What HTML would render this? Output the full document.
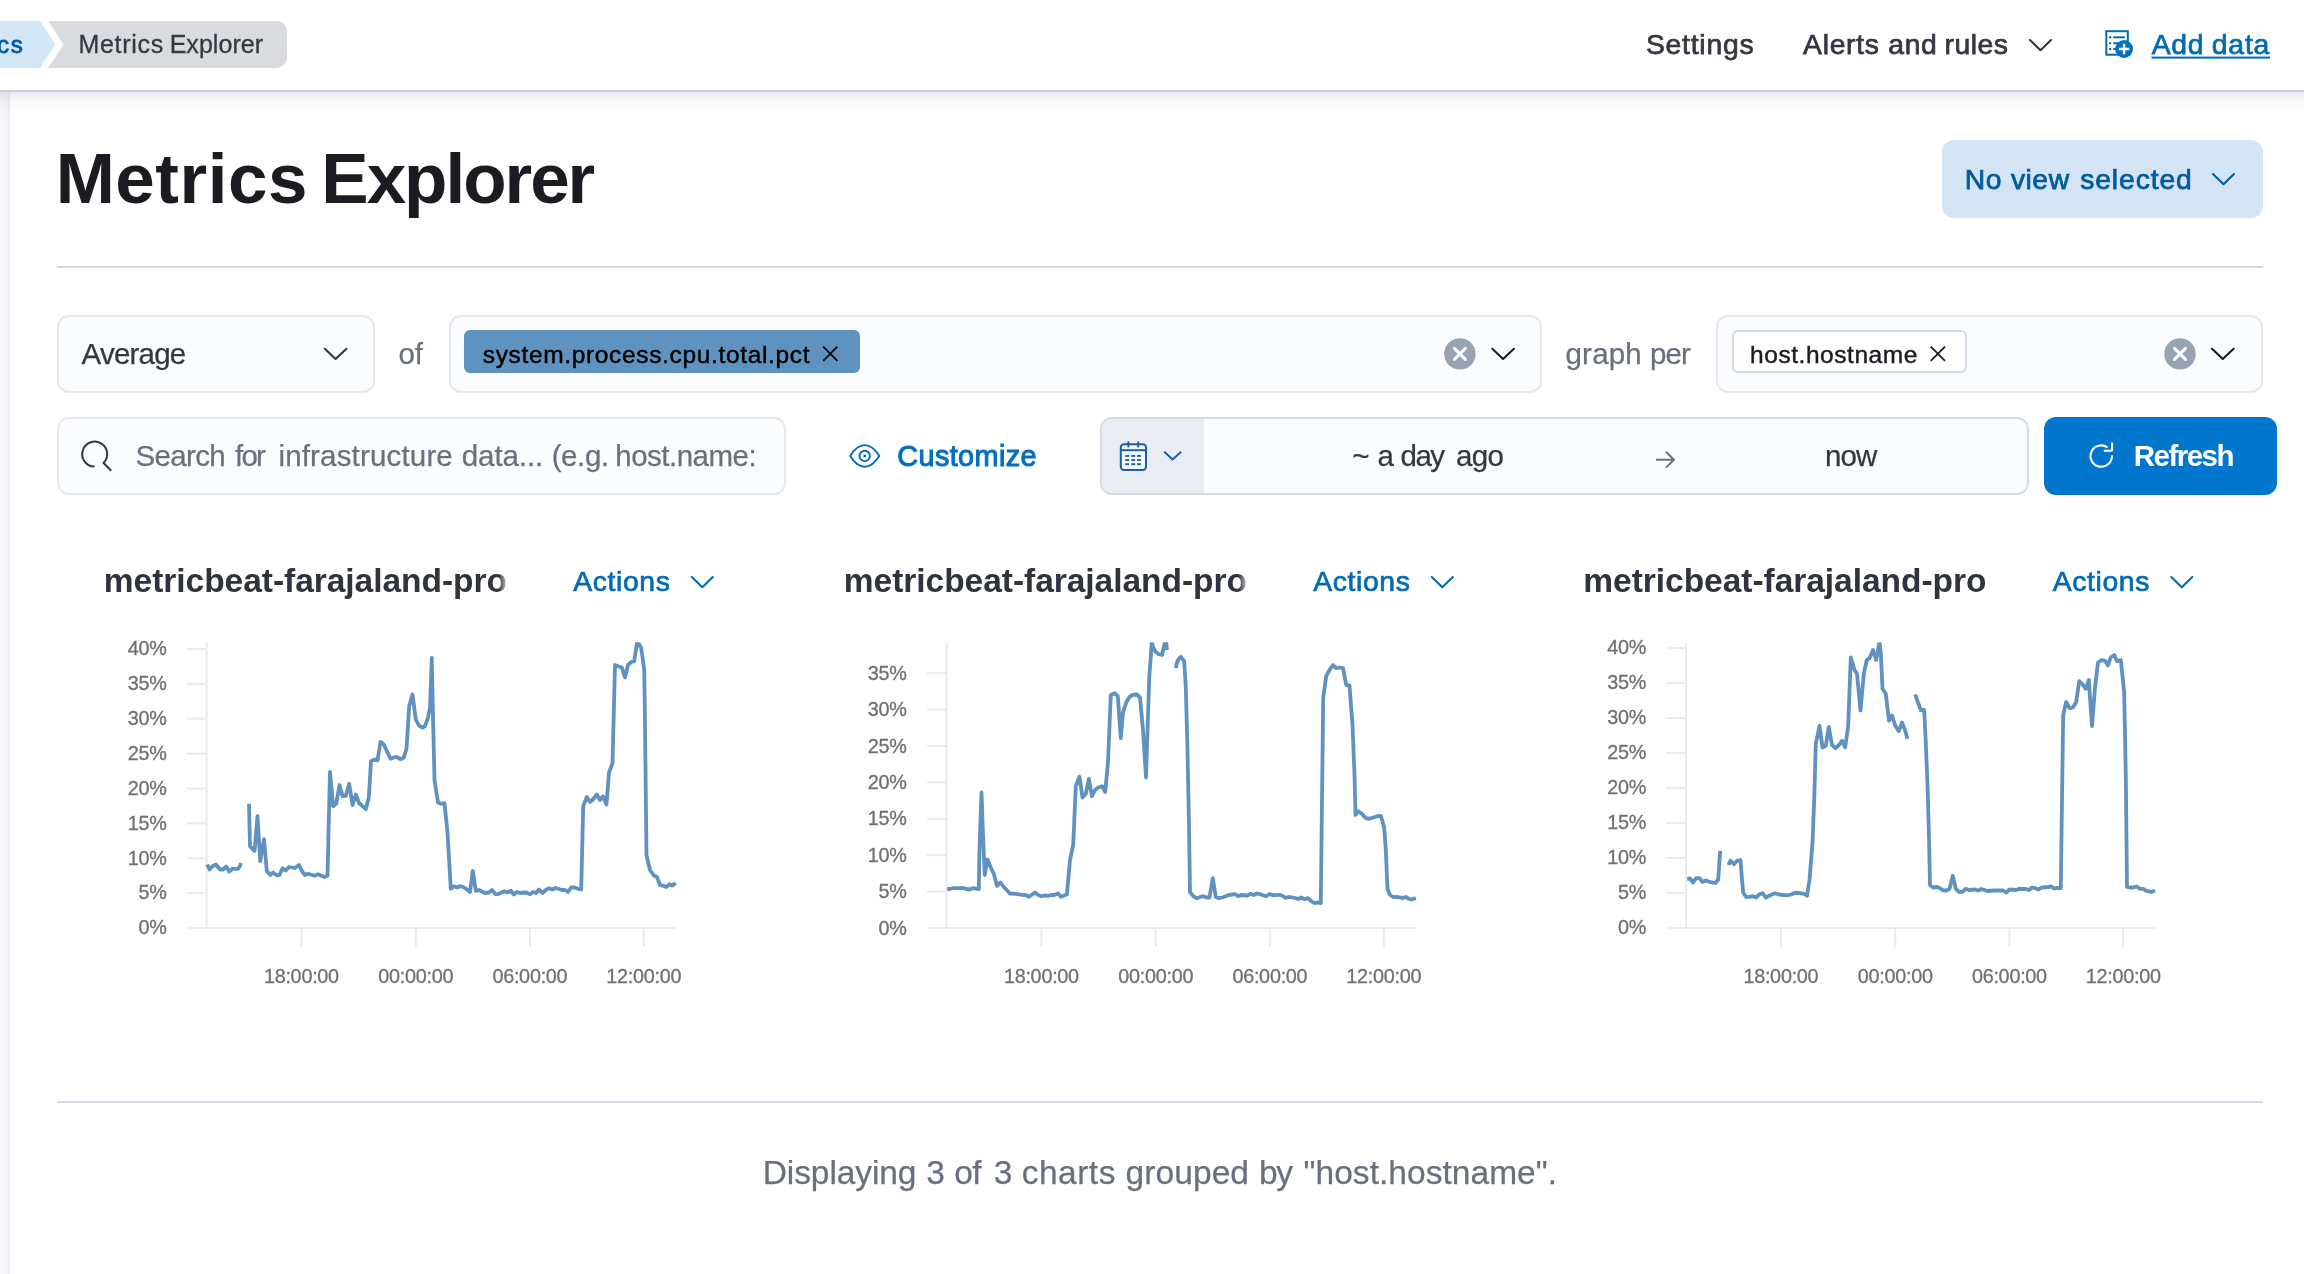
<!DOCTYPE html>
<html lang="en">
<head>
<meta charset="utf-8">
<title>Metrics Explorer</title>
<style>
*{box-sizing:border-box}
html,body{margin:0;padding:0}
body{width:2304px;height:1274px;overflow:hidden;background:#fff;position:relative;font-family:"Liberation Sans",sans-serif;}
.abs{position:absolute}
.t{position:absolute;white-space:nowrap;margin:0;padding:0}
.yl{letter-spacing:-0.2px;position:absolute;width:100px;text-align:right;font-size:19.8px;line-height:24px;color:#707070;-webkit-text-stroke:0.3px #707070;white-space:nowrap}
.xl{letter-spacing:-0.25px;position:absolute;width:120px;text-align:center;font-size:19.8px;line-height:24px;color:#707070;-webkit-text-stroke:0.3px #707070;white-space:nowrap}
.box{position:absolute;background:#FBFCFD;border:2px solid #E6E8EF;border-radius:12px}
.hr{position:absolute;left:57px;width:2205.5px;height:2px;background:#D3DAE6}
svg{position:absolute;left:0;top:0;overflow:visible}
#root{position:absolute;left:0;top:0;width:2304px;height:1274px;overflow:hidden;will-change:transform}
</style>
</head>
<body>
<div id="root">

<!-- left strip -->
<div class="abs" style="left:0;top:91px;width:10px;height:1183px;background:linear-gradient(to right,#F6F7FB 0,#F4F5F9 6px,#EEEFF3 9px,#ECEDF1 10px)"></div>

<!-- header -->
<div class="abs" style="left:0;top:91.5px;width:2304px;height:22px;background:linear-gradient(to bottom,rgba(60,65,80,0.11) 0,rgba(60,65,80,0.055) 6px,rgba(60,65,80,0.02) 13px,rgba(60,65,80,0) 22px)"></div>
<div class="abs" style="left:0;top:0;width:2304px;height:90px;background:#fff"></div>
<div class="abs" style="left:0;top:89.6px;width:2304px;height:2.2px;background:linear-gradient(to bottom,#E4E7EE 0,#C9CEDC 0.5px,#C9CEDC 100%)"></div>

<!-- toolbar boxes -->
<div class="box" style="left:57px;top:314.5px;width:317.5px;height:78.5px"></div>
<div class="box" style="left:448.5px;top:314.5px;width:1093.5px;height:78.5px"></div>
<div class="box" style="left:1715.5px;top:314.5px;width:547px;height:78.5px"></div>
<div class="box" style="left:57px;top:417px;width:728.5px;height:78px"></div>

<!-- pills -->
<div class="abs" style="left:464px;top:330.3px;width:395.5px;height:42.7px;background:#6092C0;border-radius:6px"></div>
<div class="abs" style="left:1731.5px;top:330.3px;width:235.5px;height:42.7px;background:#fff;border:2px solid #D3DAE6;border-radius:6px"></div>

<!-- date picker -->
<div class="abs" style="left:1100px;top:417px;width:928.5px;height:78px;background:#FBFCFD;border:2px solid #D5DAE5;border-radius:12px;overflow:hidden">
  <div class="abs" style="left:0;top:0;width:102px;height:74px;background:#E9EDF3"></div>
</div>

<!-- refresh button -->
<div class="abs" style="left:2044px;top:417px;width:232.5px;height:78px;background:#0077CC;border-radius:12px"></div>

<!-- view button -->
<div class="abs" style="left:1942px;top:140px;width:320.5px;height:77.5px;background:#D3E5F4;border-radius:12px"></div>

<!-- rules -->
<div class="hr" style="top:265.5px"></div>
<div class="hr" style="top:1101px"></div>

<!-- title fades -->
<div class="abs" style="left:498.5px;top:565px;width:9.5px;height:36px;background:linear-gradient(to right,rgba(255,255,255,0),rgba(255,255,255,0.85));z-index:5"></div>
<div class="abs" style="left:1238.5px;top:565px;width:9.5px;height:36px;background:linear-gradient(to right,rgba(255,255,255,0),rgba(255,255,255,0.85));z-index:5"></div>

<svg width="2304" height="1274" viewBox="0 0 2304 1274">
  <!-- breadcrumbs -->
  <path d="M0 21H40L55.5 44.5L40 68H0Z" fill="#D3E6F5"/>
  <path d="M48 21H277A10 10 0 0 1 287 31V58A10 10 0 0 1 277 68H48L63.6 44.5Z" fill="#DADBDF"/>

  <!-- header chevron (Alerts and rules) -->
  <path d="M2030 40L2040.5 50.2L2051 40" fill="none" stroke="#343741" stroke-width="2.1" stroke-linecap="round" stroke-linejoin="round"/>
  <!-- add data icon -->
  <g>
    <rect x="2106.3" y="31.2" width="21.5" height="23.5" fill="none" stroke="#006BB4" stroke-width="2"/>
    <rect x="2109.2" y="36.3" width="2" height="2" fill="#005A9E"/>
    <rect x="2109.2" y="42.2" width="2" height="2" fill="#005A9E"/>
    <rect x="2109.2" y="48" width="2" height="2" fill="#005A9E"/>
    <rect x="2113.2" y="36.3" width="11.7" height="2" fill="#006BB4"/>
    <rect x="2113.2" y="42.2" width="6" height="2" fill="#006BB4"/>
    <rect x="2113.2" y="48" width="4" height="2" fill="#006BB4"/>
    <circle cx="2124.1" cy="49" r="8.9" fill="#0071C2"/>
    <path d="M2118.9 49H2129.3M2124.1 43.8V54.2" stroke="#fff" stroke-width="2.4" fill="none"/>
  </g>
  <!-- add data underline -->
  <rect x="2151.5" y="56.6" width="118.5" height="2" fill="#006BB4"/>

  <!-- view button chevron -->
  <path d="M2213 174L2223.5 184.2L2234 174" fill="none" stroke="#005A9E" stroke-width="2.1" stroke-linecap="round" stroke-linejoin="round"/>

  <!-- average select chevron -->
  <path d="M324.8 348.8L335.6 359L346.4 348.8" fill="none" stroke="#343741" stroke-width="2.1" stroke-linecap="round" stroke-linejoin="round"/>

  <!-- combobox 1 clear + chevron -->
  <circle cx="1459.9" cy="353.9" r="15.7" fill="#98A2B3"/>
  <path d="M1454.4 348.4L1465.4 359.4M1465.4 348.4L1454.4 359.4" stroke="#fff" stroke-width="2.9" stroke-linecap="round" fill="none"/>
  <path d="M1492.3 348.8L1503.1 359L1513.9 348.8" fill="none" stroke="#1A1C21" stroke-width="2.1" stroke-linecap="round" stroke-linejoin="round"/>
  <!-- combobox 2 clear + chevron -->
  <circle cx="2180" cy="353.9" r="15.7" fill="#98A2B3"/>
  <path d="M2174.5 348.4L2185.5 359.4M2185.5 348.4L2174.5 359.4" stroke="#fff" stroke-width="2.9" stroke-linecap="round" fill="none"/>
  <path d="M2212 348.8L2222.8 359L2233.6 348.8" fill="none" stroke="#1A1C21" stroke-width="2.1" stroke-linecap="round" stroke-linejoin="round"/>

  <!-- pill crosses -->
  <path d="M823.2 346.6L837.4 360.8M837.4 346.6L823.2 360.8" stroke="#000" stroke-width="1.8" fill="none"/>
  <path d="M1930.8 346.6L1945 360.8M1945 346.6L1930.8 360.8" stroke="#1A1C21" stroke-width="1.8" fill="none"/>

  <!-- search icon -->
  <path d="M94.5 466.6A12.5 12.5 0 1 1 103.6 462.9L111.2 470.8" fill="none" stroke="#343741" stroke-width="2" stroke-linecap="butt" stroke-linejoin="miter"/>

  <!-- eye icon -->
  <path d="M850.2 455.9C854.5 449 859.5 445.1 864.7 445.1C869.9 445.1 874.9 449 879.3 455.9C874.9 462.8 869.9 466.7 864.7 466.7C859.5 466.7 854.5 462.8 850.2 455.9Z" fill="none" stroke="#006BB4" stroke-width="1.9" stroke-linejoin="round"/>
  <circle cx="864.7" cy="455.9" r="5.2" fill="none" stroke="#006BB4" stroke-width="1.9"/>
  <circle cx="864.7" cy="455.9" r="1.4" fill="#005A9E"/>

  <!-- calendar icon -->
  <g stroke="#1A5FA0" fill="none" stroke-width="2">
    <rect x="1120.8" y="444.3" width="25.2" height="25.6" rx="3.2" ry="3.2" fill="#F1F7FD"/>
    <path d="M1120.8 450.2H1146"/>
    <path d="M1128.4 442.3V446.4M1138.2 442.3V446.4" stroke-linecap="round"/>
  </g>
  <g fill="#1A5FA0">
    <rect x="1125.3" y="455" width="3.8" height="1.9"/><rect x="1131.3" y="455" width="3.8" height="1.9"/><rect x="1137.1" y="455" width="3.8" height="1.9"/>
    <rect x="1125.3" y="459.1" width="3.8" height="1.9"/><rect x="1131.3" y="459.1" width="3.8" height="1.9"/><rect x="1137.1" y="459.1" width="3.8" height="1.9"/>
    <rect x="1125.3" y="463.2" width="3.8" height="1.9"/><rect x="1131.3" y="463.2" width="3.8" height="1.9"/><rect x="1137.1" y="463.2" width="3.8" height="1.9"/>
  </g>
  <path d="M1164.8 452.3L1172.6 459.5L1180.6 452.3" fill="none" stroke="#1A5FA0" stroke-width="2" stroke-linecap="round" stroke-linejoin="round"/>

  <!-- arrow right -->
  <path d="M1656 459.7H1674M1666 451.8L1674 459.7L1666 467.6" fill="none" stroke="#69707D" stroke-width="2" stroke-linejoin="miter"/>

  <!-- refresh icon -->
  <path d="M2107.6 447.5A10.7 10.7 0 1 0 2111.9 455.4" fill="none" stroke="#fff" stroke-width="2.1"/>
  <path d="M2112.1 442.6V449.8Q2112.1 450.8 2111.1 450.8H2103.8" fill="none" stroke="#fff" stroke-width="2.1" stroke-linecap="butt"/>

  <!-- actions chevrons -->
  <path d="M691.8 577L702.3 587.2L712.8 577" fill="none" stroke="#006BB4" stroke-width="2.1" stroke-linecap="round" stroke-linejoin="round"/>
  <path d="M1431.8 577L1442.3 587.2L1452.8 577" fill="none" stroke="#006BB4" stroke-width="2.1" stroke-linecap="round" stroke-linejoin="round"/>
  <path d="M2171.3 577L2181.8 587.2L2192.3 577" fill="none" stroke="#006BB4" stroke-width="2.1" stroke-linecap="round" stroke-linejoin="round"/>

<defs><clipPath id="cp"><rect x="0" y="642.2" width="2304" height="300"/></clipPath></defs>
<path d="M206.6 642.5V928" stroke="#EAEAEA" stroke-width="2" fill="none"/>
<path d="M187 928H675.5" stroke="#EAEAEA" stroke-width="2" fill="none"/>
<path d="M187 649.0H206.6" stroke="#EAEAEA" stroke-width="2" fill="none"/>
<path d="M187 683.875H206.6" stroke="#EAEAEA" stroke-width="2" fill="none"/>
<path d="M187 718.75H206.6" stroke="#EAEAEA" stroke-width="2" fill="none"/>
<path d="M187 753.625H206.6" stroke="#EAEAEA" stroke-width="2" fill="none"/>
<path d="M187 788.5H206.6" stroke="#EAEAEA" stroke-width="2" fill="none"/>
<path d="M187 823.375H206.6" stroke="#EAEAEA" stroke-width="2" fill="none"/>
<path d="M187 858.25H206.6" stroke="#EAEAEA" stroke-width="2" fill="none"/>
<path d="M187 893.125H206.6" stroke="#EAEAEA" stroke-width="2" fill="none"/>
<path d="M301.4 928V947" stroke="#EAEAEA" stroke-width="2" fill="none"/>
<path d="M415.7 928V947" stroke="#EAEAEA" stroke-width="2" fill="none"/>
<path d="M529.9 928V947" stroke="#EAEAEA" stroke-width="2" fill="none"/>
<path d="M643.8 928V947" stroke="#EAEAEA" stroke-width="2" fill="none"/>
<polyline points="207.2,864.5 209.5,869.5 212.5,866.2 216.0,864.5 220.0,869.5 223.0,869.5 226.2,866.5 229.2,871.5 232.5,868.8 238.0,868.8 240.0,866.2 240.8,863.0" clip-path="url(#cp)" fill="none" stroke="#6092C0" stroke-width="3.8" stroke-linejoin="round" stroke-linecap="butt"/>
<polyline points="249.0,803.8 250.0,846.2 254.5,850.8 257.5,816.2 260.2,861.2 264.0,839.2 266.8,871.2 270.5,875.0 273.0,872.5 277.0,875.5 279.5,875.0 282.5,868.2 285.8,870.5 289.0,867.0 295.0,868.0 299.0,865.0 302.0,871.2 305.0,875.0 308.0,873.8 314.5,875.8 318.0,874.2 324.5,877.0 327.5,875.8 328.5,832.5 330.0,771.8 333.2,806.2 336.2,803.8 339.5,785.0 342.5,796.2 345.8,795.8 349.2,783.8 352.5,805.0 355.8,794.5 359.0,803.0 362.5,806.2 365.8,809.2 368.8,797.5 371.0,761.2 374.5,759.5 377.5,760.5 380.5,741.8 383.8,744.5 390.5,758.8 396.2,756.8 400.8,759.2 403.8,757.5 406.5,748.8 409.2,706.2 412.5,694.5 415.8,719.5 418.8,725.5 422.5,727.5 425.0,726.2 428.0,717.5 430.0,707.5 431.8,658.0 432.8,707.5 434.5,780.0 438.0,802.5 441.2,803.8 444.5,803.2 447.5,832.5 450.8,888.8 453.8,886.2 457.0,887.5 460.0,886.2 463.2,887.0 467.0,889.5 470.0,892.0 472.8,870.8 475.8,890.8 479.0,890.0 485.0,893.0 488.8,892.5 492.0,890.0 495.5,894.2 498.8,893.8 504.2,891.2 507.5,892.5 510.8,890.8 513.8,894.5 517.0,892.0 520.0,893.0 526.2,892.5 530.0,894.2 533.0,892.0 536.2,893.0 539.0,889.5 542.5,893.0 545.8,890.0 549.0,888.2 552.5,889.5 555.5,888.0 562.0,890.0 565.0,890.0 568.0,892.0 571.2,887.5 574.5,887.5 578.0,888.8 581.2,889.5 583.2,806.2 586.8,797.0 590.0,802.0 593.0,799.5 596.8,794.5 600.0,800.0 603.0,796.2 606.5,804.5 609.0,772.5 612.5,763.2 615.0,665.0 618.2,666.2 621.8,667.5 625.0,677.5 628.0,665.0 631.2,662.0 634.2,661.2 637.0,642.5 638.2,642.5 641.2,648.0 644.2,669.5 644.8,707.5 646.5,855.2 648.2,862.5 650.0,870.0 653.8,875.5 657.0,877.0 660.0,885.0 663.2,885.8 666.2,887.0 669.5,884.2 672.0,885.5 675.8,883.2" clip-path="url(#cp)" fill="none" stroke="#6092C0" stroke-width="3.8" stroke-linejoin="round" stroke-linecap="butt"/>
<path d="M946.6 642.5V928" stroke="#EAEAEA" stroke-width="2" fill="none"/>
<path d="M927 928H1415.5" stroke="#EAEAEA" stroke-width="2" fill="none"/>
<path d="M927 673.2H946.6" stroke="#EAEAEA" stroke-width="2" fill="none"/>
<path d="M927 709.6H946.6" stroke="#EAEAEA" stroke-width="2" fill="none"/>
<path d="M927 746.0H946.6" stroke="#EAEAEA" stroke-width="2" fill="none"/>
<path d="M927 782.4000000000001H946.6" stroke="#EAEAEA" stroke-width="2" fill="none"/>
<path d="M927 818.8000000000001H946.6" stroke="#EAEAEA" stroke-width="2" fill="none"/>
<path d="M927 855.2H946.6" stroke="#EAEAEA" stroke-width="2" fill="none"/>
<path d="M927 891.6H946.6" stroke="#EAEAEA" stroke-width="2" fill="none"/>
<path d="M1041.4 928V947" stroke="#EAEAEA" stroke-width="2" fill="none"/>
<path d="M1155.7 928V947" stroke="#EAEAEA" stroke-width="2" fill="none"/>
<path d="M1269.9 928V947" stroke="#EAEAEA" stroke-width="2" fill="none"/>
<path d="M1383.8 928V947" stroke="#EAEAEA" stroke-width="2" fill="none"/>
<polyline points="947.2,888.8 950.0,889.0 952.5,888.2 960.0,888.2 962.5,887.8 966.2,889.0 969.5,889.5 972.5,888.2 978.8,889.0 979.5,850.0 981.5,792.5 983.0,835.0 984.8,875.0 987.5,859.5 990.8,867.5 993.8,873.8 997.0,885.8 1000.5,882.5 1003.8,887.0 1010.0,893.5 1016.2,893.8 1022.5,895.0 1025.8,895.0 1029.0,896.8 1035.0,892.5 1038.2,895.0 1041.5,896.2 1044.5,895.5 1048.0,895.8 1051.2,895.0 1054.5,895.0 1058.0,893.5 1061.0,896.8 1064.2,895.5 1067.0,894.2 1068.2,880.0 1070.0,860.0 1073.2,845.0 1075.8,786.2 1079.5,776.8 1082.5,797.5 1085.8,793.8 1088.8,778.8 1092.0,796.2 1095.0,790.0 1098.2,787.5 1102.0,786.2 1105.2,792.0 1108.0,762.0 1110.8,695.0 1114.5,693.2 1117.8,696.2 1120.8,738.0 1123.0,712.5 1126.2,702.5 1129.5,696.8 1132.5,695.0 1136.8,694.5 1140.0,697.5 1143.0,730.0 1146.0,777.5 1149.2,678.8 1151.8,642.0 1153.2,647.5 1155.8,652.0 1158.8,654.2 1162.0,655.0 1165.0,642.0 1166.2,642.5 1167.0,650.0" clip-path="url(#cp)" fill="none" stroke="#6092C0" stroke-width="3.8" stroke-linejoin="round" stroke-linecap="butt"/>
<polyline points="1175.8,668.0 1177.5,660.8 1180.8,656.8 1184.2,661.2 1185.8,687.5 1187.5,750.0 1189.0,825.0 1190.0,892.0 1193.2,896.2 1197.0,898.2 1200.0,897.0 1203.2,896.2 1206.5,897.5 1209.5,897.5 1212.8,878.2 1215.8,897.0 1219.0,898.2 1222.5,897.5 1228.8,895.0 1235.0,894.2 1238.2,896.2 1241.2,895.0 1247.5,895.5 1250.8,893.8 1253.8,895.0 1257.0,893.5 1260.0,894.2 1266.2,896.2 1269.5,894.0 1272.5,895.0 1276.2,895.2 1279.2,894.8 1282.5,895.8 1285.8,898.0 1289.0,896.8 1295.0,898.0 1298.2,899.0 1301.2,897.5 1304.5,899.2 1308.0,898.2 1311.2,901.2 1314.5,903.2 1317.5,902.5 1320.8,903.0 1322.0,800.0 1323.2,697.5 1326.2,676.2 1329.5,670.0 1333.0,665.0 1336.2,668.2 1339.5,667.5 1343.0,668.2 1346.2,685.0 1349.5,685.5 1352.5,725.0 1354.5,775.0 1355.5,815.0 1358.2,811.2 1361.8,813.8 1365.0,817.5 1368.0,818.8 1371.2,818.2 1377.5,816.2 1380.8,815.8 1384.2,827.5 1385.8,850.0 1387.5,888.8 1390.0,895.0 1393.2,897.0 1396.8,896.8 1400.0,897.5 1403.2,898.0 1405.8,897.0 1408.8,898.8 1412.0,899.5 1415.8,898.0" clip-path="url(#cp)" fill="none" stroke="#6092C0" stroke-width="3.8" stroke-linejoin="round" stroke-linecap="butt"/>
<path d="M1686.1 642.5V928" stroke="#EAEAEA" stroke-width="2" fill="none"/>
<path d="M1666.5 928H2155.0" stroke="#EAEAEA" stroke-width="2" fill="none"/>
<path d="M1666.5 648H1686.1" stroke="#EAEAEA" stroke-width="2" fill="none"/>
<path d="M1666.5 683H1686.1" stroke="#EAEAEA" stroke-width="2" fill="none"/>
<path d="M1666.5 718H1686.1" stroke="#EAEAEA" stroke-width="2" fill="none"/>
<path d="M1666.5 753H1686.1" stroke="#EAEAEA" stroke-width="2" fill="none"/>
<path d="M1666.5 788H1686.1" stroke="#EAEAEA" stroke-width="2" fill="none"/>
<path d="M1666.5 823H1686.1" stroke="#EAEAEA" stroke-width="2" fill="none"/>
<path d="M1666.5 858H1686.1" stroke="#EAEAEA" stroke-width="2" fill="none"/>
<path d="M1666.5 893H1686.1" stroke="#EAEAEA" stroke-width="2" fill="none"/>
<path d="M1780.9 928V947" stroke="#EAEAEA" stroke-width="2" fill="none"/>
<path d="M1895.2 928V947" stroke="#EAEAEA" stroke-width="2" fill="none"/>
<path d="M2009.4 928V947" stroke="#EAEAEA" stroke-width="2" fill="none"/>
<path d="M2123.3 928V947" stroke="#EAEAEA" stroke-width="2" fill="none"/>
<polyline points="1687.2,878.8 1690.0,878.5 1693.0,882.5 1696.0,878.2 1699.5,878.2 1702.5,882.0 1705.8,880.5 1709.0,881.8 1715.5,883.0 1718.2,879.5 1719.2,865.0 1720.2,850.8" clip-path="url(#cp)" fill="none" stroke="#6092C0" stroke-width="3.8" stroke-linejoin="round" stroke-linecap="butt"/>
<polyline points="1728.5,865.0 1730.5,860.8 1734.0,864.2 1737.0,860.8 1740.5,860.0 1741.8,877.5 1743.2,892.5 1746.2,897.0 1749.5,896.8 1753.0,896.2 1756.2,897.5 1759.5,894.2 1762.5,893.2 1765.8,897.5 1769.0,895.8 1775.0,893.2 1779.0,894.5 1784.5,895.2 1788.0,895.2 1791.2,894.5 1794.5,893.0 1798.0,892.8 1804.2,893.8 1807.0,895.8 1809.5,880.0 1812.5,842.5 1814.2,800.0 1815.8,743.8 1819.5,725.8 1822.5,747.5 1825.8,745.8 1828.8,727.0 1832.0,745.0 1835.5,748.2 1839.0,745.0 1842.0,740.8 1845.2,747.5 1848.2,725.8 1850.8,657.5 1854.5,670.0 1857.0,673.8 1860.5,710.5 1863.8,673.8 1866.8,660.0 1869.5,658.2 1873.0,650.0 1876.2,660.0 1879.5,642.0 1880.8,652.5 1882.5,688.8 1885.8,693.8 1889.0,720.8 1892.0,715.5 1895.2,725.5 1898.8,731.2 1902.0,722.5 1905.0,730.0 1907.5,738.8" clip-path="url(#cp)" fill="none" stroke="#6092C0" stroke-width="3.8" stroke-linejoin="round" stroke-linecap="butt"/>
<polyline points="1915.2,694.5 1917.5,701.2 1920.8,710.0 1924.2,710.0 1925.8,742.5 1927.5,785.0 1929.0,837.5 1930.0,885.0 1933.2,887.5 1937.0,887.0 1940.0,888.2 1943.2,890.5 1946.5,890.5 1949.5,888.8 1952.8,875.8 1955.8,888.8 1959.0,891.8 1962.5,891.8 1965.5,888.8 1968.8,890.0 1975.0,889.5 1978.2,890.5 1981.2,889.0 1987.5,891.0 1993.8,890.5 2000.0,890.5 2003.0,890.5 2006.2,892.5 2009.5,889.5 2016.2,890.0 2019.2,888.8 2025.8,889.0 2029.0,890.0 2032.0,887.5 2035.0,888.0 2038.2,889.5 2042.0,887.5 2048.0,887.0 2051.2,886.5 2054.5,888.8 2057.5,887.8 2060.8,888.2 2062.0,800.0 2063.2,715.0 2066.2,702.0 2069.5,708.2 2073.0,707.5 2076.2,702.0 2079.2,681.2 2082.5,684.2 2085.8,688.8 2088.8,680.0 2092.0,726.2 2095.0,687.5 2098.0,662.5 2101.8,660.0 2105.0,660.8 2108.0,665.5 2110.5,657.5 2114.2,655.0 2117.0,661.2 2120.8,660.0 2124.2,692.5 2125.8,775.0 2127.0,887.0 2130.0,887.5 2133.2,887.5 2136.8,886.5 2140.0,888.8 2143.2,888.8 2146.2,890.8 2149.5,891.5 2152.0,891.8 2155.0,890.5" clip-path="url(#cp)" fill="none" stroke="#6092C0" stroke-width="3.8" stroke-linejoin="round" stroke-linecap="butt"/>
</svg>

<div class="yl" style="left:66.7px;top:636.2px">40%</div>
<div class="yl" style="left:66.7px;top:671.1px">35%</div>
<div class="yl" style="left:66.7px;top:706.0px">30%</div>
<div class="yl" style="left:66.7px;top:740.8px">25%</div>
<div class="yl" style="left:66.7px;top:775.7px">20%</div>
<div class="yl" style="left:66.7px;top:810.6px">15%</div>
<div class="yl" style="left:66.7px;top:845.5px">10%</div>
<div class="yl" style="left:66.7px;top:880.3px">5%</div>
<div class="yl" style="left:66.7px;top:915.2px">0%</div>
<div class="xl" style="left:241.39999999999998px;top:964.3px">18:00:00</div>
<div class="xl" style="left:355.7px;top:964.3px">00:00:00</div>
<div class="xl" style="left:469.9px;top:964.3px">06:00:00</div>
<div class="xl" style="left:583.8px;top:964.3px">12:00:00</div>
<div class="yl" style="left:806.7px;top:660.8px">35%</div>
<div class="yl" style="left:806.7px;top:697.2px">30%</div>
<div class="yl" style="left:806.7px;top:733.6px">25%</div>
<div class="yl" style="left:806.7px;top:770.0px">20%</div>
<div class="yl" style="left:806.7px;top:806.4px">15%</div>
<div class="yl" style="left:806.7px;top:842.8px">10%</div>
<div class="yl" style="left:806.7px;top:879.2px">5%</div>
<div class="yl" style="left:806.7px;top:915.6px">0%</div>
<div class="xl" style="left:981.4000000000001px;top:964.3px">18:00:00</div>
<div class="xl" style="left:1095.7px;top:964.3px">00:00:00</div>
<div class="xl" style="left:1209.9px;top:964.3px">06:00:00</div>
<div class="xl" style="left:1323.8px;top:964.3px">12:00:00</div>
<div class="yl" style="left:1546.2px;top:635.2px">40%</div>
<div class="yl" style="left:1546.2px;top:670.2px">35%</div>
<div class="yl" style="left:1546.2px;top:705.2px">30%</div>
<div class="yl" style="left:1546.2px;top:740.2px">25%</div>
<div class="yl" style="left:1546.2px;top:775.2px">20%</div>
<div class="yl" style="left:1546.2px;top:810.2px">15%</div>
<div class="yl" style="left:1546.2px;top:845.2px">10%</div>
<div class="yl" style="left:1546.2px;top:880.2px">5%</div>
<div class="yl" style="left:1546.2px;top:915.2px">0%</div>
<div class="xl" style="left:1720.9px;top:964.3px">18:00:00</div>
<div class="xl" style="left:1835.2px;top:964.3px">00:00:00</div>
<div class="xl" style="left:1949.4px;top:964.3px">06:00:00</div>
<div class="xl" style="left:2063.3px;top:964.3px">12:00:00</div>

<div><span class="t" style="left:-2.90px;top:29.80px;font-size:24.2px;line-height:29px;font-weight:400;color:#005A9E;letter-spacing:1.506px;-webkit-text-stroke:0.8px #005A9E;">cs</span></div>
<div><span class="t" style="left:78.45px;top:28.50px;font-size:25px;line-height:30px;font-weight:400;color:#343741;letter-spacing:0.691px;-webkit-text-stroke:0.3px #343741;">Metrics</span> <span class="t" style="left:169.65px;top:28.50px;font-size:25px;line-height:30px;font-weight:400;color:#343741;letter-spacing:0.048px;-webkit-text-stroke:0.3px #343741;">Explorer</span></div>
<div><span class="t" style="left:1645.88px;top:26.80px;font-size:28.3px;line-height:34px;font-weight:400;color:#343741;letter-spacing:0.779px;-webkit-text-stroke:0.75px #343741;">Settings</span></div>
<div><span class="t" style="left:1803.08px;top:26.80px;font-size:28.3px;line-height:34px;font-weight:400;color:#343741;letter-spacing:0.713px;-webkit-text-stroke:0.75px #343741;">Alerts</span> <span class="t" style="left:1888.17px;top:26.80px;font-size:28.3px;line-height:34px;font-weight:400;color:#343741;letter-spacing:0.738px;-webkit-text-stroke:0.75px #343741;">and</span> <span class="t" style="left:1944.58px;top:26.80px;font-size:28.3px;line-height:34px;font-weight:400;color:#343741;letter-spacing:0.466px;-webkit-text-stroke:0.75px #343741;">rules</span></div>
<div><span class="t" style="left:2151.78px;top:26.80px;font-size:28.3px;line-height:34px;font-weight:400;color:#006BB4;letter-spacing:0.719px;-webkit-text-stroke:0.75px #006BB4;">Add</span> <span class="t" style="left:2211.68px;top:26.80px;font-size:28.3px;line-height:34px;font-weight:400;color:#006BB4;letter-spacing:0.871px;-webkit-text-stroke:0.75px #006BB4;">data</span></div>
<div><span class="t" style="left:55.70px;top:136.00px;font-size:71px;line-height:85px;font-weight:700;color:#1A1C21;letter-spacing:0.514px;">Metrics</span> <span class="t" style="left:321.30px;top:136.00px;font-size:71px;line-height:85px;font-weight:700;color:#1A1C21;letter-spacing:-2.018px;">Explorer</span></div>
<div><span class="t" style="left:1964.78px;top:161.80px;font-size:28.3px;line-height:34px;font-weight:400;color:#005A9E;letter-spacing:0.615px;-webkit-text-stroke:0.75px #005A9E;">No</span> <span class="t" style="left:2010.88px;top:161.80px;font-size:28.3px;line-height:34px;font-weight:400;color:#005A9E;letter-spacing:0.526px;-webkit-text-stroke:0.75px #005A9E;">view</span> <span class="t" style="left:2080.18px;top:161.80px;font-size:28.3px;line-height:34px;font-weight:400;color:#005A9E;letter-spacing:0.899px;-webkit-text-stroke:0.75px #005A9E;">selected</span></div>
<div><span class="t" style="left:81.62px;top:335.80px;font-size:29.5px;line-height:35px;font-weight:400;color:#343741;letter-spacing:-0.781px;-webkit-text-stroke:0.25px #343741;">Average</span></div>
<div><span class="t" style="left:398.62px;top:335.80px;font-size:29.5px;line-height:35px;font-weight:400;color:#69707D;letter-spacing:-0.156px;-webkit-text-stroke:0.25px #69707D;">of</span></div>
<div><span class="t" style="left:482.73px;top:339.50px;font-size:24.5px;line-height:29px;font-weight:400;color:#000;letter-spacing:0.658px;-webkit-text-stroke:0.45px #000;">system.process.cpu.total.pct</span></div>
<div><span class="t" style="left:1565.53px;top:335.80px;font-size:29.5px;line-height:35px;font-weight:400;color:#69707D;letter-spacing:0.202px;-webkit-text-stroke:0.25px #69707D;">graph</span> <span class="t" style="left:1649.92px;top:335.80px;font-size:29.5px;line-height:35px;font-weight:400;color:#69707D;letter-spacing:-0.831px;-webkit-text-stroke:0.25px #69707D;">per</span></div>
<div><span class="t" style="left:1750.02px;top:339.50px;font-size:24.5px;line-height:29px;font-weight:400;color:#1A1C21;letter-spacing:0.556px;-webkit-text-stroke:0.45px #1A1C21;">host.hostname</span></div>
<div><span class="t" style="left:897.30px;top:438.50px;font-size:28.8px;line-height:35px;font-weight:400;color:#0070C0;letter-spacing:0.399px;-webkit-text-stroke:1.0px #0070C0;">Customize</span></div>
<div><span class="t" style="left:1352.33px;top:437.80px;font-size:29.5px;line-height:35px;font-weight:400;color:#343741;letter-spacing:0.000px;-webkit-text-stroke:0.25px #343741;">~</span> <span class="t" style="left:1377.42px;top:437.80px;font-size:29.5px;line-height:35px;font-weight:400;color:#343741;letter-spacing:0.000px;-webkit-text-stroke:0.25px #343741;">a</span> <span class="t" style="left:1400.42px;top:437.80px;font-size:29.5px;line-height:35px;font-weight:400;color:#343741;letter-spacing:-1.431px;-webkit-text-stroke:0.25px #343741;">day</span> <span class="t" style="left:1455.92px;top:437.80px;font-size:29.5px;line-height:35px;font-weight:400;color:#343741;letter-spacing:-0.581px;-webkit-text-stroke:0.25px #343741;">ago</span></div>
<div><span class="t" style="left:1825.12px;top:437.80px;font-size:29.5px;line-height:35px;font-weight:400;color:#343741;letter-spacing:-0.931px;-webkit-text-stroke:0.25px #343741;">now</span></div>
<div><span class="t" style="left:2133.80px;top:437.80px;font-size:29.5px;line-height:35px;font-weight:700;color:#FFF;letter-spacing:-1.538px;">Refresh</span></div>
<div><span class="t" style="left:762.73px;top:1153.10px;font-size:33.5px;line-height:40px;font-weight:400;color:#69707D;letter-spacing:-0.085px;-webkit-text-stroke:0.25px #69707D;">Displaying</span> <span class="t" style="left:926.33px;top:1153.10px;font-size:33.5px;line-height:40px;font-weight:400;color:#69707D;letter-spacing:0.000px;-webkit-text-stroke:0.25px #69707D;">3</span> <span class="t" style="left:954.33px;top:1153.10px;font-size:33.5px;line-height:40px;font-weight:400;color:#69707D;letter-spacing:-0.681px;-webkit-text-stroke:0.25px #69707D;">of</span> <span class="t" style="left:993.73px;top:1153.10px;font-size:33.5px;line-height:40px;font-weight:400;color:#69707D;letter-spacing:0.000px;-webkit-text-stroke:0.25px #69707D;">3</span> <span class="t" style="left:1021.73px;top:1153.10px;font-size:33.5px;line-height:40px;font-weight:400;color:#69707D;letter-spacing:0.495px;-webkit-text-stroke:0.25px #69707D;">charts</span> <span class="t" style="left:1125.62px;top:1153.10px;font-size:33.5px;line-height:40px;font-weight:400;color:#69707D;letter-spacing:0.073px;-webkit-text-stroke:0.25px #69707D;">grouped</span> <span class="t" style="left:1258.92px;top:1153.10px;font-size:33.5px;line-height:40px;font-weight:400;color:#69707D;letter-spacing:-1.281px;-webkit-text-stroke:0.25px #69707D;">by</span> <span class="t" style="left:1303.62px;top:1153.10px;font-size:33.5px;line-height:40px;font-weight:400;color:#69707D;letter-spacing:0.035px;-webkit-text-stroke:0.25px #69707D;">&quot;host.hostname&quot;.</span></div>
<div class="abs" style="left:0;top:0;width:754.5px;height:1274px;overflow:hidden"><span class="t" style="left:135.43px;top:437.80px;font-size:29.5px;line-height:35px;font-weight:400;color:#69707D;letter-spacing:-0.623px;-webkit-text-stroke:0.25px #69707D;">Search</span> <span class="t" style="left:235.12px;top:437.80px;font-size:29.5px;line-height:35px;font-weight:400;color:#69707D;letter-spacing:-1.826px;-webkit-text-stroke:0.25px #69707D;">for</span> <span class="t" style="left:278.43px;top:437.80px;font-size:29.5px;line-height:35px;font-weight:400;color:#69707D;letter-spacing:0.170px;-webkit-text-stroke:0.25px #69707D;">infrastructure</span> <span class="t" style="left:461.73px;top:437.80px;font-size:29.5px;line-height:35px;font-weight:400;color:#69707D;letter-spacing:-0.076px;-webkit-text-stroke:0.25px #69707D;">data...</span> <span class="t" style="left:551.73px;top:437.80px;font-size:29.5px;line-height:35px;font-weight:400;color:#69707D;letter-spacing:-0.421px;-webkit-text-stroke:0.25px #69707D;">(e.g.</span> <span class="t" style="left:615.33px;top:437.80px;font-size:29.5px;line-height:35px;font-weight:400;color:#69707D;letter-spacing:-0.511px;-webkit-text-stroke:0.25px #69707D;">host.name:</span></div>
<div><span class="t" style="left:103.80px;top:561.00px;font-size:33.5px;line-height:40px;font-weight:700;color:#30333E;letter-spacing:-0.033px;">metricbeat-farajaland-pro</span></div>
<div><span class="t" style="left:573.15px;top:564.00px;font-size:28.3px;line-height:34px;font-weight:400;color:#006BB4;letter-spacing:0.642px;-webkit-text-stroke:0.7px #006BB4;">Actions</span></div>
<div><span class="t" style="left:843.80px;top:561.00px;font-size:33.5px;line-height:40px;font-weight:700;color:#30333E;letter-spacing:-0.033px;">metricbeat-farajaland-pro</span></div>
<div><span class="t" style="left:1313.15px;top:564.00px;font-size:28.3px;line-height:34px;font-weight:400;color:#006BB4;letter-spacing:0.642px;-webkit-text-stroke:0.7px #006BB4;">Actions</span></div>
<div><span class="t" style="left:1583.30px;top:561.00px;font-size:33.5px;line-height:40px;font-weight:700;color:#30333E;letter-spacing:-0.033px;">metricbeat-farajaland-pro</span></div>
<div><span class="t" style="left:2052.65px;top:564.00px;font-size:28.3px;line-height:34px;font-weight:400;color:#006BB4;letter-spacing:0.642px;-webkit-text-stroke:0.7px #006BB4;">Actions</span></div>

</div>
</body>
</html>
